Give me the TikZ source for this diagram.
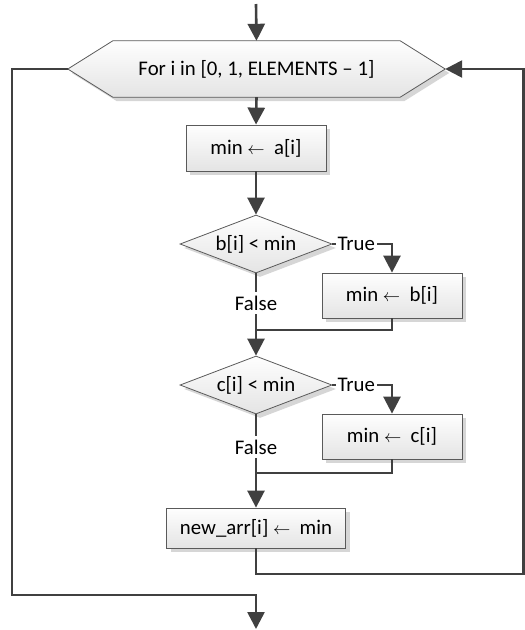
\documentclass[tikz,border=0pt]{standalone}
\usepackage{fontspec}
\setmainfont{Carlito}
\usetikzlibrary{arrows.meta,shapes.geometric,shadows,calc}
\definecolor{ln}{HTML}{404040}
\definecolor{bd}{HTML}{5A5A5A}
\definecolor{shd}{HTML}{D6D6D6}
\definecolor{ftop}{HTML}{FEFEFE}
\definecolor{fbot}{HTML}{E4E4E4}
\newcommand\fsz{\fontsize{20.8}{24}\selectfont}
\newcommand\larr{{\fontsize{18}{18}\selectfont$\leftarrow$}}
\tikzset{
  shp/.style={draw=bd, line width=0.8pt, top color=ftop, bottom color=fbot,
    inner sep=0pt, font=\fsz,
    drop shadow={shadow xshift=4pt, shadow yshift=-4pt, fill=shd, opacity=1, draw=none}},
  stepbox/.style={shp, rectangle},
  decide/.style={shp, diamond, shape aspect=2.6},
  conn/.style={draw=ln, line width=2.6pt},
  arr/.style={conn, -{Triangle[length=17pt,width=17pt]}},
  lbl/.style={fill=white, font=\fsz, inner xsep=2pt, inner ysep=4pt},
}
\begin{document}
\begin{tikzpicture}[x=1pt,y=-1pt]
\path[use as bounding box] (0,0) rectangle (525,630);

% loop hexagon
\node[minimum width=377pt, minimum height=56pt, inner sep=0pt] (loop) at (256.5,69) {};
\fill[shd] ($(loop.west)+(4,4)$) -- ($(loop.north west)+(49,4)$) -- ($(loop.north east)+(-41,4)$)
  -- ($(loop.east)+(4,4)$) -- ($(loop.south east)+(-41,4)$) -- ($(loop.south west)+(49,4)$) -- cycle;
\draw[draw=bd, line width=0.8pt, top color=ftop, bottom color=fbot]
  (loop.west) -- ($(loop.north west)+(45,0)$) -- ($(loop.north east)+(-45,0)$)
  -- (loop.east) -- ($(loop.south east)+(-45,0)$) -- ($(loop.south west)+(45,0)$) -- cycle;
\node[font=\fsz, inner sep=0pt] (looptext) at (loop) {For i in [0, 1, ELEMENTS -- 1]};

% steps
\node[stepbox, minimum width=140pt, minimum height=46pt] (boxa) at (256,148) {min~\larr~~a[i]};
\node[decide, minimum width=152pt, minimum height=58pt] (dia1) at (256,244) {b[i] < min};
\node[stepbox, minimum width=140pt, minimum height=45pt] (boxb) at (392,295.5) {min~\larr~~b[i]};
\node[decide, minimum width=152pt, minimum height=58pt] (dia2) at (256,385) {c[i] < min};
\node[stepbox, minimum width=140pt, minimum height=45pt] (boxc) at (392,436.5) {min~\larr~~c[i]};
\node[stepbox, minimum width=179pt, minimum height=40pt] (boxn) at (256,528) {new\_arr[i]~\larr~~min};

% coordinates
\coordinate (start) at (256,4);
\coordinate (m1) at (256,330);
\coordinate (m2) at (256,473);
\coordinate (rb) at (523.7,574);
\coordinate (rt) at (523.7,69);
\coordinate (lt) at (12,69);
\coordinate (lb) at (12,595);
\coordinate (finish) at (256,629);

% connectors
\draw[arr] (start) -- (loop.north);
\draw[arr] (loop.south) -- (boxa.north);
\draw[arr] (boxa.south) -- (dia1.north);
\draw[arr] (dia1.east) -| (boxb.north);
\draw[conn] (dia1.south) -- (m1);
\draw[conn] (boxb.south) |- (m1);
\draw[arr] (m1) -- (dia2.north);
\draw[arr] (dia2.east) -| (boxc.north);
\draw[conn] (dia2.south) -- (m2);
\draw[conn] (boxc.south) |- (m2);
\draw[arr] (m2) -- (boxn.north);
\draw[arr] (boxn.south) |- (rb) -- (rt) -- (loop.east);
\draw[arr] (loop.west) -- (lt) -- (lb) -| (finish);

% labels
\node[lbl, anchor=west] (t1) at ($(dia1.east)+(3,0)$) {True};
\node[lbl, anchor=west] (t2) at ($(dia2.east)+(3,0)$) {True};
\node[lbl] (f1) at (256,303) {False};
\node[lbl] (f2) at (256,447) {False};
\end{tikzpicture}
\end{document}
